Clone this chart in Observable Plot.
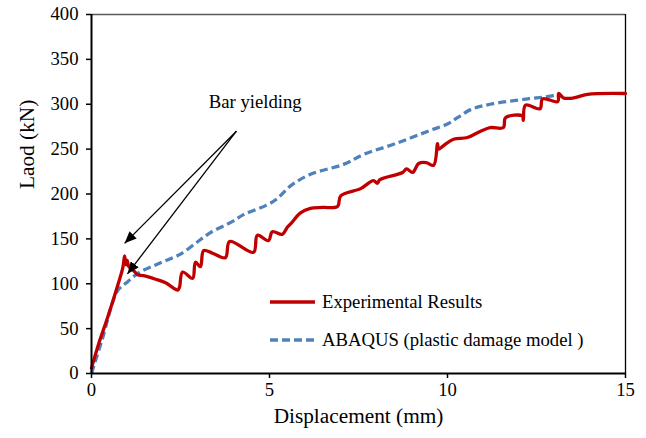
<!DOCTYPE html>
<html><head><meta charset="utf-8">
<script src="https://cdn.jsdelivr.net/npm/d3@7"></script>
<script src="https://cdn.jsdelivr.net/npm/@observablehq/plot@0.6"></script>
<style>
body{margin:0;background:#fff;font-family:"Liberation Serif","Times New Roman",serif}
#wrap{position:relative;width:646px;height:438px}
.leg{position:absolute;left:270px;display:flex;align-items:center;font-size:18.7px;color:#000;white-space:nowrap}
.leg svg{margin-right:7px}
</style>
</head><body><div id="wrap"></div>
<script>
// Experimental results (displacement mm, load kN)
const expDisp = [0,0.2,0.45,0.75,0.88,0.93,0.97,1.0,1.05,1.2,1.3,1.46,1.8,2.08,2.42,2.47,2.56,2.84,2.92,3.06,3.15,3.4,3.76,3.88,4.55,4.66,4.97,5.08,5.36,5.5,5.6,5.87,6.15,6.5,6.91,7.0,7.56,7.92,8.03,8.1,8.74,8.85,9.02,9.19,9.4,9.61,9.72,9.75,9.89,10.17,10.56,10.93,11.2,11.57,11.63,12.1,12.13,12.19,12.6,12.67,13.1,13.12,13.26,13.54,13.93,15];
const expLoad = [6,33,62,100,118,131,121,126,119,114,110,109,105,101,93,96,113,106,124,119,137,134,129,147,135,154,148,158,155,163,167,179,184,185,186,198,206,215,212,216,224,228,224,234,235,232,256,250,254,261,263,270,274,274,285,287,282,299,295,306,303,312,307,307,311,312];
// ABAQUS (plastic damage model)
const abqDisp = [0,0.3,0.73,1.01,1.32,1.8,2.28,2.5,2.92,3.34,3.99,4.27,4.94,5.22,5.59,6.15,7.08,7.64,8.6,9.52,10.0,10.28,10.65,11.2,12.25,12.89,13.1];
const abqLoad = [0,38,92,102,112,121,129,133,145,157,170,177,188,195,209,222,233,244,257,271,278,285,294,300,306,309,311];
const xTicks = [0,5,10,15];
const yTicks = [0,50,100,150,200,250,300,350,400];
const seriesNames = ["Experimental Results","ABAQUS (plastic damage model )"];
const seriesColors = ["#C00000","#4F81BD"];
const annotText = "Bar yielding";
const annotPos = {x: 4.6, y: 303};
const arrowStart = {x: 4.07, y: 270};
const arrowTips = [{x: 0.93, y: 145}, {x: 1.01, y: 111}];
const xTitle = "Displacement (mm)";
const yTitle = "Laod (kN)";

const exp = expDisp.map((d,i)=>({d, l: expLoad[i]}));
const abq = abqDisp.map((d,i)=>({d, l: abqLoad[i]}));
const arrows = arrowTips.map(t=>({x1: arrowStart.x, y1: arrowStart.y, x2: t.x, y2: t.y}));
const font = "Liberation Serif, Times New Roman, serif";

const chart = Plot.plot({
  width: 646, height: 438,
  marginLeft: 91, marginRight: 21, marginTop: 14, marginBottom: 65,
  x: {domain: [0,15]},
  y: {domain: [0,400]},
  style: {fontFamily: font, color: "#000", background: "#fff", overflow: "visible"},
  marks: [
    Plot.ruleY([400], {stroke: "#595959", strokeWidth: 1.5}),
    Plot.ruleX([15], {stroke: "#000", strokeWidth: 1.3}),
    Plot.axisX(xTicks, {tickSize: 5, tickPadding: 4, fontSize: 18.7, label: null, strokeWidth: 1.5, fill: "#000"}),
    Plot.axisY(yTicks, {tickSize: 5, tickPadding: 8, fontSize: 18.7, label: null, strokeWidth: 1.5, fill: "#000"}),
    Plot.line(abq, {x: "d", y: "l", stroke: seriesColors[1], strokeWidth: 3.3, strokeDasharray: "8,4", strokeLinecap: "butt", curve: "catmull-rom"}),
    Plot.line(exp, {x: "d", y: "l", stroke: seriesColors[0], strokeWidth: 3.3, curve: "catmull-rom"}),
    Plot.ruleX([0], {stroke: "#000", strokeWidth: 2}),
    Plot.ruleY([0], {stroke: "#000", strokeWidth: 2}),
    Plot.link(arrows, {x1: "x1", y1: "y1", x2: "x2", y2: "y2", stroke: "#000", strokeWidth: 1.3}),
    Plot.text([annotText], {x: annotPos.x, y: annotPos.y, text: d=>d, fontSize: 18.7, fill: "#000"}),
    Plot.text([xTitle], {frameAnchor: "bottom", dy: 49, text: d=>d, fontSize: 21.3, fill: "#000"}),
    Plot.text([yTitle], {frameAnchor: "left", dx: -64, dy: -5, rotate: -90, text: d=>d, fontSize: 21.3, fill: "#000"})
  ]
});

// filled arrowheads
const svg = d3.select(chart);
const defs = svg.append("defs");
defs.append("marker").attr("id","ah").attr("viewBox","0 0 12 10").attr("refX",12).attr("refY",5)
  .attr("markerWidth",12).attr("markerHeight",10).attr("markerUnits","userSpaceOnUse").attr("orient","auto")
  .append("path").attr("d","M0,0L12,5L0,10Z").attr("fill","#000");
svg.selectAll('g[aria-label="link"] path').attr("marker-end","url(#ah)");

const wrap = document.getElementById("wrap");
wrap.appendChild(chart);

// legend inside plot area
const legTops = [302, 340];
seriesNames.forEach((name,i)=>{
  const div = document.createElement("div");
  div.className = "leg";
  div.style.top = (legTops[i]-12) + "px";
  div.style.height = "24px";
  const dash = i===1 ? 'stroke-dasharray="8,4"' : '';
  div.innerHTML = `<svg width="45" height="6"><line x1="0" y1="3" x2="45" y2="3" stroke="${seriesColors[i]}" stroke-width="3.3" ${dash}/></svg><span>${name}</span>`;
  wrap.appendChild(div);
});
</script>
</body></html>
